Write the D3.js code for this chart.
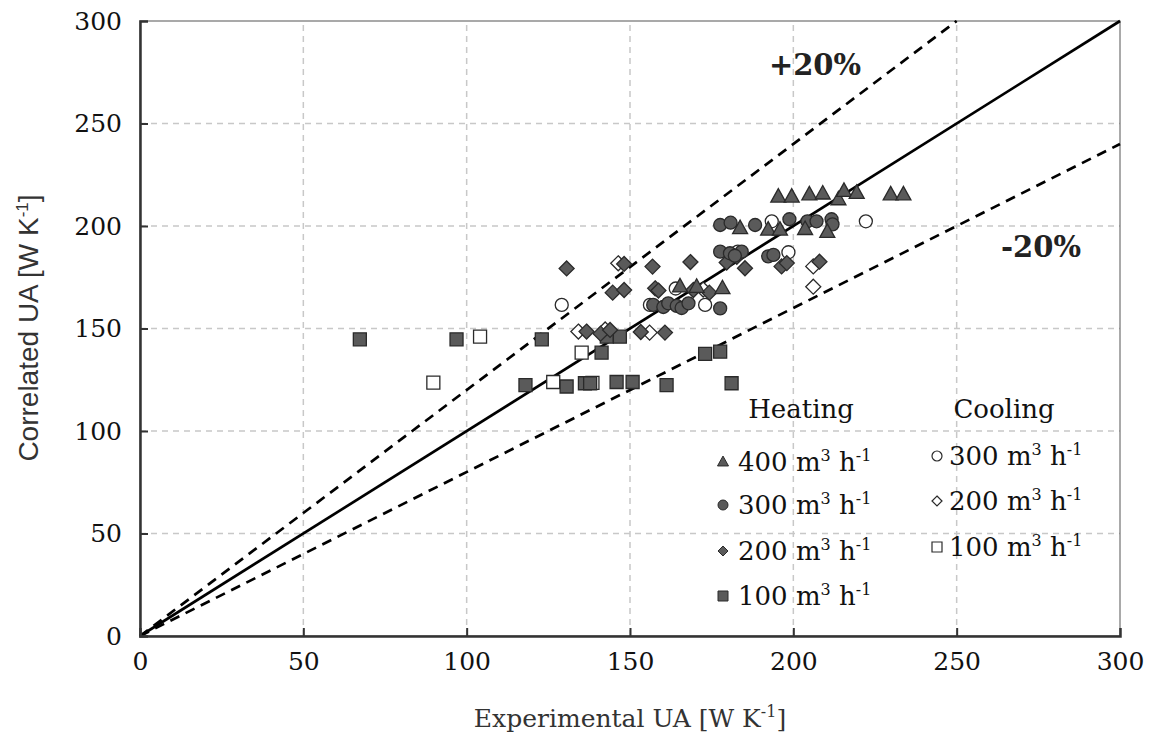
<!DOCTYPE html>
<html><head><meta charset="utf-8">
<script src="https://cdn.jsdelivr.net/npm/d3@7"></script>
<style>body{margin:0;background:#fff}</style>
</head><body><svg id="c" width="1156" height="740"></svg>
<script>
const xTicks=[0,50,100,150,200,250,300];
const yTicks=[0,50,100,150,200,250,300];
const gridTicks=[50,100,150,200,250];

const heat400=[[165.3,170.5],[170.4,170.3],[178.3,169.6],[183.7,198.9],[192.3,198.2],[195.9,198.2],[195.4,214.3],[199.5,214.3],[203.6,198.5],[204.9,215.4],[209,215.8],[210.4,197.1],[213.8,213],[215.5,217.1],[219.4,216.1],[229.8,215.4],[233.7,215.4]];
const heat300=[[157.1,161.5],[160.2,160.5],[161.7,162.3],[164.3,161],[165.8,160],[167.9,162.3],[177.6,159.8],[177.6,187.5],[180.6,186.7],[184.2,187.5],[182.1,185.5],[177.6,200.5],[180.8,201.6],[188.3,200.5],[192.3,185.2],[193.9,185.9],[198.8,203.3],[204.3,202.3],[207.1,202.3],[211.7,203.3],[212,200.8]];
const heat200=[[130.6,179.3],[136.7,148.5],[141,147.5],[143.9,149.3],[144.7,167.5],[148.2,168.8],[148.2,181.5],[153.3,148.3],[156.9,180.2],[157.7,169.6],[158.7,168.5],[160.7,148],[168.5,182.4],[169.4,168.8],[174.3,167.5],[179.6,182.2],[182.7,185],[185.2,179.4],[196.4,180.3],[198,181.9],[208,182.6]];
const heat100=[[67.3,144.7],[96.9,144.7],[123,144.7],[118,122.4],[130.6,121.7],[136.2,123.3],[137.8,123.3],[141.3,138.2],[142.9,146],[146.9,146],[145.9,123.9],[150.8,123.9],[161.2,122.4],[173,137.6],[177.6,138.7],[181.1,123.3]];
const cool300=[[129.1,161.5],[156.1,161.5],[164,169.5],[173,161.5],[183,187.5],[193.4,202.3],[198.5,187.2],[222.2,202.3]];
const cool200=[[134.2,148.5],[142.4,149.5],[146.4,181.8],[156,148],[172.4,169],[206.1,180.3],[206.1,170.4]];
const cool100=[[89.8,123.6],[104.1,146],[126.5,123.9],[135.2,138.2],[138.5,123.5]];

const heatLabels=["400","300","200","100"];
const coolLabels=["300","200","100"];

const svg=d3.select("#c");
const x=d3.scaleLinear().domain([0,300]).range([140,1120]);
const y=d3.scaleLinear().domain([0,300]).range([636,21]);
const SERIF="'DejaVu Serif','Liberation Serif',serif";

// grid
const g=svg.append("g");
g.selectAll(".vg").data(gridTicks).enter().append("line")
 .attr("x1",d=>x(d)).attr("x2",d=>x(d)).attr("y1",y(0)).attr("y2",y(300))
 .attr("stroke","#c8c8c8").attr("stroke-width",1.5).attr("stroke-dasharray","6,5");
g.selectAll(".hg").data(gridTicks).enter().append("line")
 .attr("y1",d=>y(d)).attr("y2",d=>y(d)).attr("x1",x(0)).attr("x2",x(300))
 .attr("stroke","#c8c8c8").attr("stroke-width",1.5).attr("stroke-dasharray","6,5");

// border
svg.append("rect").attr("x",x(0)).attr("y",y(300)).attr("width",x(300)-x(0)).attr("height",y(0)-y(300))
 .attr("fill","none").attr("stroke","#555").attr("stroke-width",1);

// reference lines
const line=d3.line().x(d=>x(d[0])).y(d=>y(d[1]));
svg.append("path").attr("d",line([[0,0],[300,300]])).attr("stroke","#000").attr("stroke-width",2.7).attr("fill","none");
svg.append("path").attr("d",line([[0,0],[250,300]])).attr("stroke","#000").attr("stroke-width",2.7).attr("fill","none").attr("stroke-dasharray","10,7");
svg.append("path").attr("d",line([[0,0],[300,240]])).attr("stroke","#000").attr("stroke-width",2.7).attr("fill","none").attr("stroke-dasharray","10,7");

// axes
const xa=svg.append("g").attr("transform",`translate(0,${y(0)})`)
 .call(d3.axisBottom(x).tickValues(xTicks).tickSize(-8).tickPadding(16).tickFormat(d3.format("d")));
const ya=svg.append("g").attr("transform",`translate(${x(0)},0)`)
 .call(d3.axisLeft(y).tickValues(yTicks).tickSize(-8).tickPadding(18).tickFormat(d3.format("d")));
[xa,ya].forEach(a=>{
  a.select(".domain").attr("stroke","#333").attr("stroke-width",2.5);
  a.selectAll(".tick line").attr("stroke","#333").attr("stroke-width",2);
  a.selectAll(".tick text").attr("font-family",SERIF).attr("font-size",25).attr("fill","#111");
});
xa.selectAll(".tick").filter(d=>d===0||d===300).select("line").remove();
ya.selectAll(".tick").filter(d=>d===0||d===300).select("line").remove();

// markers
function tri(s){const h=s*0.9;return `M0,${-h*0.6}L${s/2},${h*0.4}L${-s/2},${h*0.4}Z`;}
function dia(s){const r=s/2;return `M0,${-r}L${r},0L0,${r}L${-r},0Z`;}
function sq(s){const r=s/2;return `M${-r},${-r}H${r}V${r}H${-r}Z`;}
function circ(s){const r=s/2;return `M${r},0A${r},${r},0,1,1,${-r},0A${r},${r},0,1,1,${r},0Z`;}
const DARK="#5a5a5a", STROKE="#2a2a2a";
function plot(data,shape,size,fill){
  svg.append("g").selectAll("path").data(data).enter().append("path")
   .attr("transform",d=>`translate(${x(d[0])},${y(d[1])})`)
   .attr("d",shape(size)).attr("fill",fill).attr("stroke",STROKE).attr("stroke-width",1.3);
}
plot(cool100,sq,13,"#fff");
plot(cool200,dia,15,"#fff");
plot(cool300,circ,13,"#fff");
plot(heat100,sq,13,DARK);
plot(heat200,dia,15,DARK);
plot(heat300,circ,13,DARK);
plot(heat400,tri,15,DARK);

// annotations
svg.append("text").attr("x",815).attr("y",75).attr("text-anchor","middle").attr("font-family",SERIF)
 .attr("font-weight","bold").attr("font-size",29).attr("fill","#222").text("+20%");
svg.append("text").attr("x",1041).attr("y",257).attr("text-anchor","middle").attr("font-family",SERIF)
 .attr("font-weight","bold").attr("font-size",29).attr("fill","#222").text("-20%");

// legend
function unitText(sel,num){
  sel.append("tspan").text(num+" m");
  sel.append("tspan").attr("font-size",16).attr("dy",-10).text("3");
  sel.append("tspan").attr("dy",10).text(" h");
  sel.append("tspan").attr("font-size",16).attr("dy",-10).text("-1");
}
const L=svg.append("g").attr("font-family",SERIF).attr("font-size",26).attr("fill","#111");
L.append("text").attr("x",801).attr("y",418).attr("text-anchor","middle").text("Heating");
L.append("text").attr("x",1004).attr("y",418).attr("text-anchor","middle").text("Cooling");
const hShapes=[tri,circ,dia,sq], hY=[471,514,560,605];
heatLabels.forEach((lab,i)=>{
  L.append("path").attr("transform",`translate(723,${hY[i]-9})`).attr("d",hShapes[i](i==0?11:10))
   .attr("fill",DARK).attr("stroke",STROKE).attr("stroke-width",1);
  unitText(L.append("text").attr("x",738).attr("y",hY[i]),lab);
});
const cShapes=[circ,dia,sq], cY=[465,510,556];
coolLabels.forEach((lab,i)=>{
  L.append("path").attr("transform",`translate(937,${cY[i]-9})`).attr("d",cShapes[i](10))
   .attr("fill","#fff").attr("stroke",STROKE).attr("stroke-width",1.2);
  unitText(L.append("text").attr("x",949).attr("y",cY[i]),lab);
});

// axis titles
const xt=svg.append("text").attr("x",630).attr("y",727).attr("text-anchor","middle")
 .attr("font-family",SERIF).attr("font-size",25).attr("fill","#333");
xt.append("tspan").text("Experimental UA [W K");
xt.append("tspan").attr("font-size",16).attr("dy",-10).text("-1");
xt.append("tspan").attr("dy",10).text("]");
const yt=svg.append("text").attr("transform","translate(38,328) rotate(-90)").attr("text-anchor","middle")
 .attr("font-family","'Liberation Sans','DejaVu Sans',sans-serif").attr("font-size",28).attr("fill","#333");
yt.append("tspan").text("Correlated UA [W K");
yt.append("tspan").attr("font-size",17).attr("dy",-10).text("-1");
yt.append("tspan").attr("dy",10).text("]");
</script></body></html>
